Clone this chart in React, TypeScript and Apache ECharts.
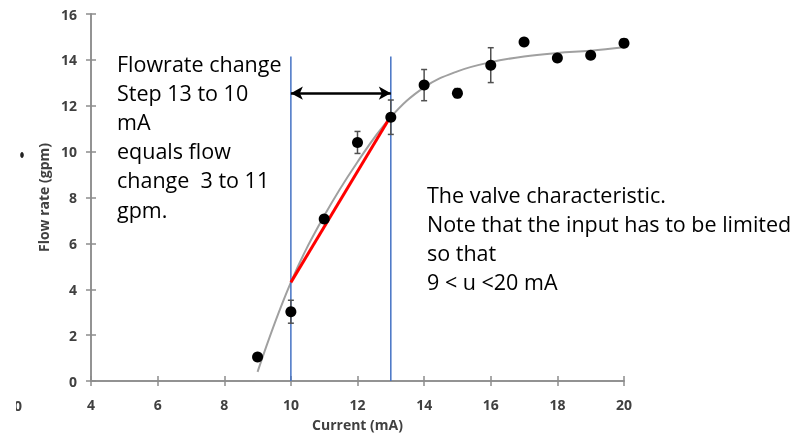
import React, { useEffect, useRef } from "react";
import * as echarts from "echarts";

// Measured valve characteristic: flow rate (gpm) against input current (mA)
const currents = [9, 10, 11, 12, 13, 14, 15, 16, 17, 18, 19, 20];
const flowRates = [1.05, 3.02, 7.06, 10.4, 11.5, 12.9, 12.55, 13.77, 14.78, 14.08, 14.2, 14.73];
const flowErrors = [0, 0.5, 0.15, 0.48, 0.75, 0.68, 0.2, 0.76, 0, 0, 0, 0];

// Fitted trend line through the measurements
const fitCurrents = [9, 10, 11, 12, 13, 14, 15, 16, 17, 18, 19, 20];
const fitFlow = [0.4, 4.3, 7.2, 9.55, 11.5, 12.8, 13.5, 13.9, 14.15, 14.3, 14.4, 14.55];

// Linearised step between the two operating points
const stepCurrents = [10, 13];
const stepFlow = [4.3, 11.55];
const markerTop = 14.15;
const arrowFlow = 12.55;

const leftNote = ["Flowrate change", "Step 13 to 10", "mA", "equals flow", "change  3 to 11", "gpm."];
const rightNote = ["The valve characteristic.", "Note that the input has to be limited", "so that", "9 < u <20 mA"];

const AXIS_GREY = "#8c8c8c";
const LABEL_GREY = "#404040";
const NOTE_FONT = "Open Sans";

export default function App() {
  const ref = useRef<HTMLDivElement>(null);

  useEffect(() => {
    if (!ref.current) return;
    const chart = echarts.init(ref.current, undefined, { renderer: "svg" });

    const points = currents.map((c, i) => [c, flowRates[i]]);
    const bars = currents.map((c, i) => [c, flowRates[i], flowErrors[i]]);
    const fit = fitCurrents.map((c, i) => [c, fitFlow[i]]);

    const axisCommon = {
      axisLine: { show: true, lineStyle: { color: AXIS_GREY, width: 1.5 } },
      splitLine: { show: false },
    };
    const labelFont = { fontFamily: "Open Sans", fontWeight: "bold", fontSize: 14, color: LABEL_GREY };
    const nameFont = { fontFamily: "Open Sans", fontWeight: "bold", fontSize: 14, color: LABEL_GREY };

    const noteText = (lines: string[], x: number, y0: number, step: number) =>
      lines.map((t, i) => ({
        type: "text",
        x,
        y: y0 + i * step,
        style: {
          text: t,
          fontFamily: NOTE_FONT,
          fontSize: 21.5,
          fill: "#000",
          verticalAlign: "middle",
          align: "left",
        },
      }));

    chart.setOption({
      animation: false,
      grid: { left: 91, right: 169, top: 14, bottom: 60 },
      xAxis: [
        {
          type: "value",
          min: 4,
          max: 20,
          interval: 2,
          name: "Current (mA)",
          nameLocation: "middle",
          nameGap: 36,
          nameTextStyle: nameFont,
          axisTick: { show: true, length: 5, inside: false, lineStyle: { color: AXIS_GREY, width: 1.5 } },
          axisLabel: { margin: 16, ...labelFont },
          ...axisCommon,
        },
        {
          type: "value",
          min: 4,
          max: 20,
          interval: 2,
          position: "bottom",
          axisTick: { show: true, length: 5, inside: true, lineStyle: { color: AXIS_GREY, width: 1.5 } },
          axisLabel: { show: false },
          ...axisCommon,
        },
      ],
      yAxis: [
        {
          type: "value",
          min: 0,
          max: 16,
          interval: 2,
          name: "Flow rate (gpm)",
          nameLocation: "middle",
          nameGap: 36,
          nameTextStyle: nameFont,
          axisTick: { show: true, length: 5, inside: false, lineStyle: { color: AXIS_GREY, width: 1.5 } },
          axisLabel: { margin: 14, ...labelFont },
          ...axisCommon,
        },
        {
          type: "value",
          min: 0,
          max: 16,
          interval: 2,
          position: "left",
          axisTick: { show: true, length: 5, inside: true, lineStyle: { color: AXIS_GREY, width: 1.5 } },
          axisLabel: { show: false },
          ...axisCommon,
        },
      ],
      series: [
        {
          type: "line",
          data: fit,
          smooth: 0.4,
          symbol: "none",
          lineStyle: { color: "#a0a0a0", width: 2 },
          z: 2,
        },
        ...stepCurrents.map((c) => ({
          type: "line",
          data: [
            [c, 0],
            [c, markerTop],
          ],
          symbol: "none",
          lineStyle: { color: "#4472c4", width: 1.5 },
          z: 3,
        })),
        {
          type: "line",
          data: stepCurrents.map((c, i) => [c, stepFlow[i]]),
          symbol: "none",
          lineStyle: { color: "#ff0000", width: 3 },
          z: 4,
          markLine: {
            silent: true,
            symbol: ["arrow", "arrow"],
            symbolSize: [10, 12],
            label: { show: false },
            lineStyle: { color: "#000", width: 2.5, type: "solid" },
            data: [
              [
                { coord: [stepCurrents[0], arrowFlow] },
                { coord: [stepCurrents[1], arrowFlow] },
              ],
            ],
          },
        },
        {
          type: "custom",
          data: bars,
          z: 5,
          renderItem: (_params: any, api: any) => {
            const x = api.value(0);
            const y = api.value(1);
            const e = api.value(2);
            if (!e) return { type: "group", children: [] };
            const top = api.coord([x, y + e]);
            const bot = api.coord([x, y - e]);
            const cap = 3;
            const stroke = { stroke: "#505050", lineWidth: 1.5 };
            return {
              type: "group",
              children: [
                { type: "line", shape: { x1: top[0], y1: top[1], x2: bot[0], y2: bot[1] }, style: stroke },
                { type: "line", shape: { x1: top[0] - cap, y1: top[1], x2: top[0] + cap, y2: top[1] }, style: stroke },
                { type: "line", shape: { x1: bot[0] - cap, y1: bot[1], x2: bot[0] + cap, y2: bot[1] }, style: stroke },
              ],
            };
          },
        },
        {
          type: "scatter",
          data: points,
          symbol: "circle",
          symbolSize: 11,
          itemStyle: { color: "#000", opacity: 1 },
          z: 6,
        },
      ],
      graphic: [
        ...noteText(leftNote, 117, 63, 29.2),
        ...noteText(rightNote, 427, 194, 29.3),
        {
          type: "text",
          x: 14,
          y: 405,
          style: { text: "0", fontFamily: "Open Sans", fontWeight: "bold", fontSize: 14, fill: LABEL_GREY, verticalAlign: "middle" },
        },
        { type: "rect", shape: { x: 0, y: 395, width: 16, height: 20 }, style: { fill: "#fff" } },
        { type: "ellipse", shape: { cx: 22, cy: 155, rx: 1.8, ry: 3 }, style: { fill: "#222" } },
      ],
    });

    return () => chart.dispose();
  }, []);

  return <div ref={ref} style={{ position: "fixed", left: 0, top: 0, width: 793, height: 441 }} />;
}
